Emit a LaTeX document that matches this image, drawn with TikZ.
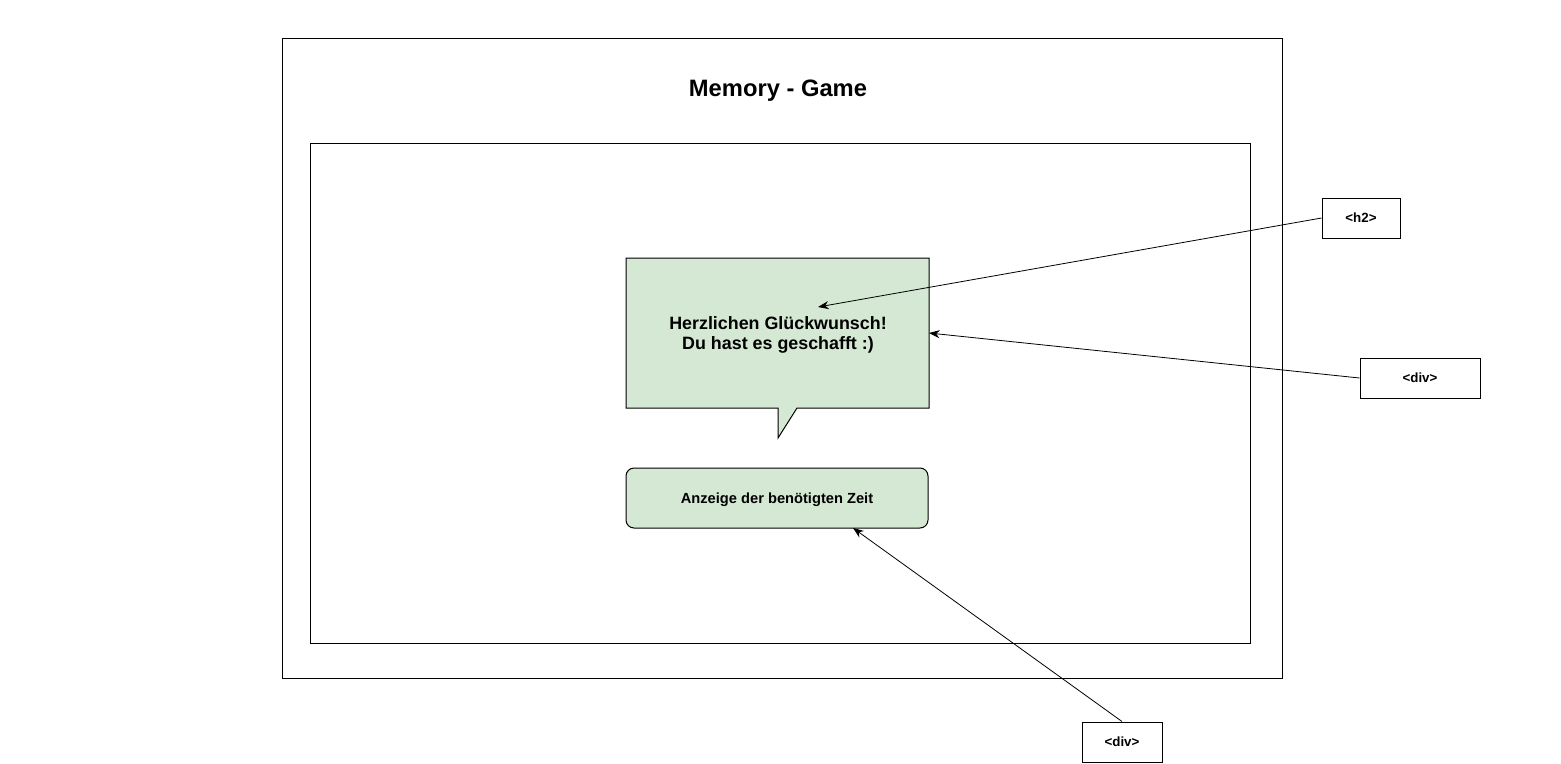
\documentclass[tikz,border=0pt]{standalone}
\usepackage{fontspec}
\setmainfont{Liberation Sans}
\usetikzlibrary{arrows.meta}
\definecolor{lightgreen}{HTML}{D5E8D4}
\tikzset{
  frame/.style={draw=black, line width=0.75pt},
  tagbox/.style={draw=black, line width=0.75pt, fill=white, minimum width=#1*0.75pt, minimum height=30pt, font=\fontsize{10}{12}\selectfont\bfseries, inner sep=0pt},
  conn/.style={draw=black, line width=0.6pt, -{Stealth[length=8pt,width=6pt]}},
}
\begin{document}
\begin{tikzpicture}[x=0.75pt,y=-0.75pt]
\useasboundingbox (0,0) rectangle (1561,764);
% outer frame
\draw[frame] (282,38) rectangle (1282,678);
\node[font=\fontsize{17.8}{20}\selectfont\bfseries] (title) at (778,91) {Memory - Game};
% inner frame
\draw[frame] (310,143) rectangle (1250,643);
% callout
\draw[frame, fill=lightgreen] (626,258) -- (929,258) -- (929,408) -- (797,408) -- (778,438) -- (778,408) -- (626,408) -- cycle;
\node[align=center, font=\fontsize{13.4}{15}\selectfont\bfseries] (callout) at (778,335) {Herzlichen Glückwunsch!\\Du hast es geschafft :)};
\coordinate (calloutin) at (818,307);
\coordinate (calloutright) at (929,333);
% time box
\node[frame, fill=lightgreen, rounded corners=6pt, minimum width=226.5pt, minimum height=45pt, inner sep=0pt, text depth=0pt, font=\fontsize{11}{13}\selectfont\bfseries] (time) at (777,498) {Anzeige der benötigten Zeit};
\coordinate (timebottom) at (853,528);
% tag boxes
\node[tagbox=78] (h2) at (1361,218) {<h2>};
\node[tagbox=120] (div1) at (1420,378) {<div>};
\node[tagbox=80] (div2) at (1122,742) {<div>};
% connectors
\draw[conn] (h2.west) -- (calloutin);
\draw[conn] (div1.west) -- (calloutright);
\draw[conn] (div2.north) -- (timebottom);
\end{tikzpicture}
\end{document}
